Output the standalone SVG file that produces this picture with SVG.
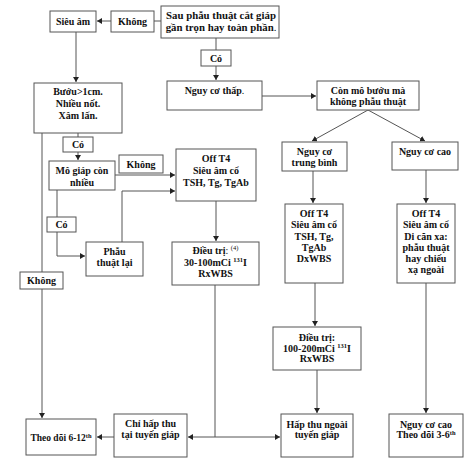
<svg xmlns="http://www.w3.org/2000/svg" width="474" height="470" viewBox="0 0 474 470">
<defs>
<marker id="ah" markerWidth="6" markerHeight="6" refX="5" refY="3" orient="auto" markerUnits="userSpaceOnUse">
<path d="M0,0 L5,3 L0,6 Z" fill="#222"/>
</marker>
<style>
rect{fill:#fff;stroke:#555;stroke-width:1}
text{font-family:"Liberation Serif","Times New Roman",serif;font-size:10px;font-weight:bold;fill:#111;text-anchor:middle}
.c line,.c polyline{stroke:#555;stroke-width:1;fill:none}
.a{marker-end:url(#ah)}
.n{font-weight:normal}
.s{font-size:6.5px}
.big{font-size:10.8px}
</style>
</defs>
<rect x="0" y="0" width="474" height="470" style="fill:#fff;stroke:none"/>
<g class="c" id="connectors">
<line x1="161" y1="21" x2="154" y2="21"/>
<line class="a" x1="111" y1="21" x2="97" y2="21"/>
<line class="a" x1="76" y1="32" x2="76" y2="82"/>
<line x1="216" y1="38" x2="216" y2="50"/>
<line class="a" x1="216" y1="66" x2="216" y2="80"/>
<line class="a" x1="262" y1="96" x2="316" y2="96"/>
<line class="a" x1="368" y1="110" x2="312" y2="141"/>
<line class="a" x1="368" y1="110" x2="425" y2="141"/>
<line class="a" x1="313" y1="171" x2="313" y2="203"/>
<line class="a" x1="426" y1="170" x2="426" y2="203"/>
<line class="a" x1="315" y1="283" x2="315" y2="326"/>
<line class="a" x1="317" y1="370" x2="317" y2="413"/>
<line class="a" x1="426" y1="283" x2="426" y2="413"/>
<line x1="78" y1="133" x2="78" y2="137"/>
<line class="a" x1="78" y1="152" x2="78" y2="160"/>
<line x1="42" y1="133" x2="42" y2="272"/>
<line class="a" x1="42" y1="289" x2="42" y2="418"/>
<line class="a" x1="115" y1="175" x2="175" y2="175"/>
<line x1="57" y1="190" x2="57" y2="217"/>
<polyline class="a" points="57,232 57,256 85,256"/>
<polyline class="a" points="122,242 122,191 175,191"/>
<line class="a" x1="216" y1="201" x2="216" y2="241"/>
<line x1="215" y1="285" x2="215" y2="437"/>
<line class="a" x1="215" y1="437" x2="188" y2="437"/>
<line class="a" x1="215" y1="437" x2="280" y2="437"/>
<line class="a" x1="114" y1="437" x2="97" y2="437"/>
</g>
<g id="sieu-am"><rect x="50" y="11" width="46" height="21"/><text x="73" y="25">Siêu âm</text></g>
<g id="khong-1"><rect x="111" y="11" width="43" height="21"/><text x="132.5" y="25">Không</text></g>
<g id="sau-phau-thuat"><rect x="161" y="6" width="118" height="32"/><text class="big" x="221" y="18.5">Sau phẫu thuật cắt giáp</text><text class="big" x="221" y="30.5">gần trọn hay toàn phần<tspan class="n">.</tspan></text></g>
<g id="co-1"><rect x="201" y="50" width="30" height="16"/><text x="216" y="61.5">Có</text></g>
<g id="nguy-co-thap"><rect x="167" y="81" width="95" height="29"/><text x="214.5" y="94">Nguy cơ thấp<tspan class="n">.</tspan></text></g>
<g id="con-mo"><rect x="317" y="81" width="102" height="29"/><text x="368" y="93.5">Còn mô bướu mà</text><text x="368" y="104.5">không phẫu thuật</text></g>
<g id="buou"><rect x="34" y="83" width="88" height="50"/><text x="78" y="94.5">Bướu&gt;1cm.</text><text x="78" y="106.5">Nhiều nốt.</text><text x="78" y="118.5">Xâm lấn.</text></g>
<g id="co-2"><rect x="63" y="137" width="30" height="15"/><text x="78" y="148">Có</text></g>
<g id="mo-giap"><rect x="49" y="161" width="66" height="29"/><text x="82" y="173.5">Mô giáp còn</text><text x="82" y="185.5">nhiều</text></g>
<g id="khong-2"><rect x="119" y="155" width="44" height="18"/><text x="141" y="167.5">Không</text></g>
<g id="off-t4-1"><rect x="176" y="149" width="80" height="52"/><text x="216" y="161.5">Off T4</text><text x="216" y="173.5">Siêu âm cổ</text><text x="216" y="185.5">TSH, Tg, TgAb</text></g>
<g id="co-3"><rect x="47" y="217" width="29" height="15"/><text x="61.5" y="228">Có</text></g>
<g id="phau-thuat-lai"><rect x="86" y="242" width="57" height="34"/><text x="114.5" y="254.5">Phẫu</text><text x="114.5" y="265.5">thuật lại</text></g>
<g id="dieu-tri-1"><rect x="172" y="242" width="87" height="43"/><text x="215.5" y="253.5">Điều trị<tspan class="n">: </tspan><tspan class="n s" dy="-3.5">(4)</tspan></text><text x="215.5" y="265.5">30-100mCi <tspan class="s" dy="-3.5">131</tspan><tspan dy="3.5">I</tspan></text><text x="215.5" y="276.5">RxWBS</text></g>
<g id="khong-3"><rect x="20" y="272" width="43" height="17"/><text x="41.5" y="284">Không</text></g>
<g id="theo-doi-1"><rect x="26" y="419" width="70" height="36"/><text x="61" y="441" style="font-size:9.5px">Theo dõi 6-12<tspan class="s" dy="-3.5">th</tspan></text></g>
<g id="chi-hap-thu"><rect x="114" y="414" width="73" height="43"/><text x="150.5" y="426.5">Chỉ hấp thu</text><text x="150.5" y="437.5">tại tuyến giáp</text></g>
<g id="nguy-co-tb"><rect x="282" y="142" width="65" height="29"/><text x="314.5" y="155">Nguy cơ</text><text x="314.5" y="166">trung bình</text></g>
<g id="nguy-co-cao"><rect x="392" y="142" width="66" height="28"/><text x="425" y="154.5">Nguy cơ cao</text></g>
<g id="off-t4-2"><rect x="285" y="204" width="58" height="79"/><text x="314" y="216.5">Off T4</text><text x="314" y="227.5">Siêu âm cổ</text><text x="314" y="239.5">TSH, Tg,</text><text x="314" y="250.5">TgAb</text><text x="314" y="261.5">DxWBS</text></g>
<g id="off-t4-3"><rect x="397" y="204" width="58" height="79"/><text x="426" y="216.5">Off T4</text><text x="426" y="227.5">Siêu âm cổ</text><text x="426" y="239.5">Di căn xa:</text><text x="426" y="250.5">phẫu thuật</text><text x="426" y="261.5">hay chiếu</text><text x="426" y="273">xạ ngoài</text></g>
<g id="dieu-tri-2"><rect x="273" y="327" width="88" height="43"/><text x="317" y="340.5">Điều trị:</text><text x="317" y="351.5">100-200mCi <tspan class="s" dy="-3.5">131</tspan><tspan dy="3.5">I</tspan></text><text x="317" y="362">RxWBS</text></g>
<g id="hap-thu-ngoai"><rect x="281" y="414" width="72" height="43"/><text x="317" y="427.5">Hấp thu ngoài</text><text x="317" y="438">tuyến giáp</text></g>
<g id="theo-doi-2"><rect x="389" y="414" width="74" height="43"/><text x="426" y="427.5">Nguy cơ cao</text><text x="426" y="438">Theo dõi 3-6<tspan class="s" dy="-3.5">th</tspan></text></g>
</svg>
